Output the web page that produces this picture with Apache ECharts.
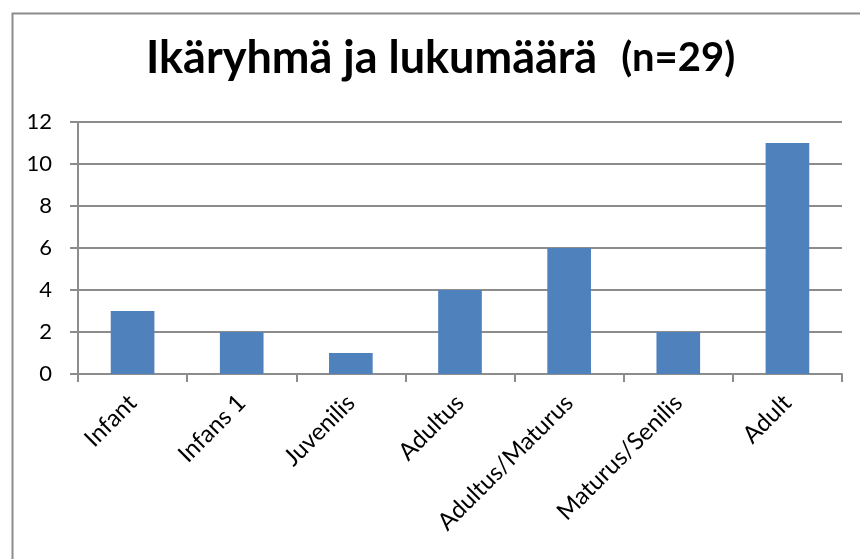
<!DOCTYPE html>
<html>
<head>
<meta charset="utf-8">
<script src="https://cdn.jsdelivr.net/npm/echarts@6/dist/echarts.min.js"></script>
<style>
  html, body { margin: 0; padding: 0; background: #ffffff; }
  #chart { width: 860px; height: 559px; }
</style>
</head>
<body>
<div id="chart"></div>
<script>
// Age groups and counts
const categories = ['Infant', 'Infans 1', 'Juvenilis', 'Adultus', 'Adultus/Maturus', 'Maturus/Senilis', 'Adult'];
const counts = [3, 2, 1, 4, 6, 2, 11];
const titleMain = 'Ikäryhmä ja lukumäärä';
const titleSub = '(n=29)';

const FONT = 'Lato, "Open Sans", sans-serif';
const chart = echarts.init(document.getElementById('chart'), null, { renderer: 'canvas' });

chart.setOption({
  animation: false,
  backgroundColor: '#ffffff',
  title: {
    text: '{a|' + titleMain + '}{gap|}{b|' + titleSub + '}',
    left: 146,
    top: 36,
    padding: 0,
    textStyle: {
      rich: {
        a: { fontFamily: FONT, fontWeight: 'bold', fontSize: 45, color: '#000000' },
        gap: { width: 24 },
        b: { fontFamily: FONT, fontWeight: 'bold', fontSize: 40, color: '#000000' }
      }
    }
  },
  graphic: [{
    type: 'rect',
    left: 10, top: 11,
    shape: { width: 900, height: 600 },
    style: { fill: 'none', stroke: '#8c8c8c', lineWidth: 2 },
    silent: true
  }],
  grid: { left: 78, right: 18, top: 122, bottom: 185 },
  xAxis: {
    type: 'category',
    data: categories,
    axisLine: { lineStyle: { color: '#8c8c8c', width: 2 } },
    axisTick: { show: true, length: 8, lineStyle: { color: '#8c8c8c', width: 2 } },
    axisLabel: {
      rotate: 45, margin: 25, interval: 0,
      fontFamily: FONT, fontSize: 24, color: '#000000'
    }
  },
  yAxis: {
    type: 'value',
    min: 0, max: 12, interval: 2,
    axisLine: { show: true, lineStyle: { color: '#8c8c8c', width: 2 } },
    axisTick: { show: true, length: 8, lineStyle: { color: '#8c8c8c', width: 2 } },
    splitLine: { lineStyle: { color: '#8c8c8c', width: 2 } },
    axisLabel: { margin: 26, fontFamily: FONT, fontSize: 22, color: '#000000' }
  },
  series: [{
    type: 'bar',
    data: counts,
    barWidth: '40%',
    itemStyle: { color: '#4f81bd' }
  }]
});
</script>
</body>
</html>
